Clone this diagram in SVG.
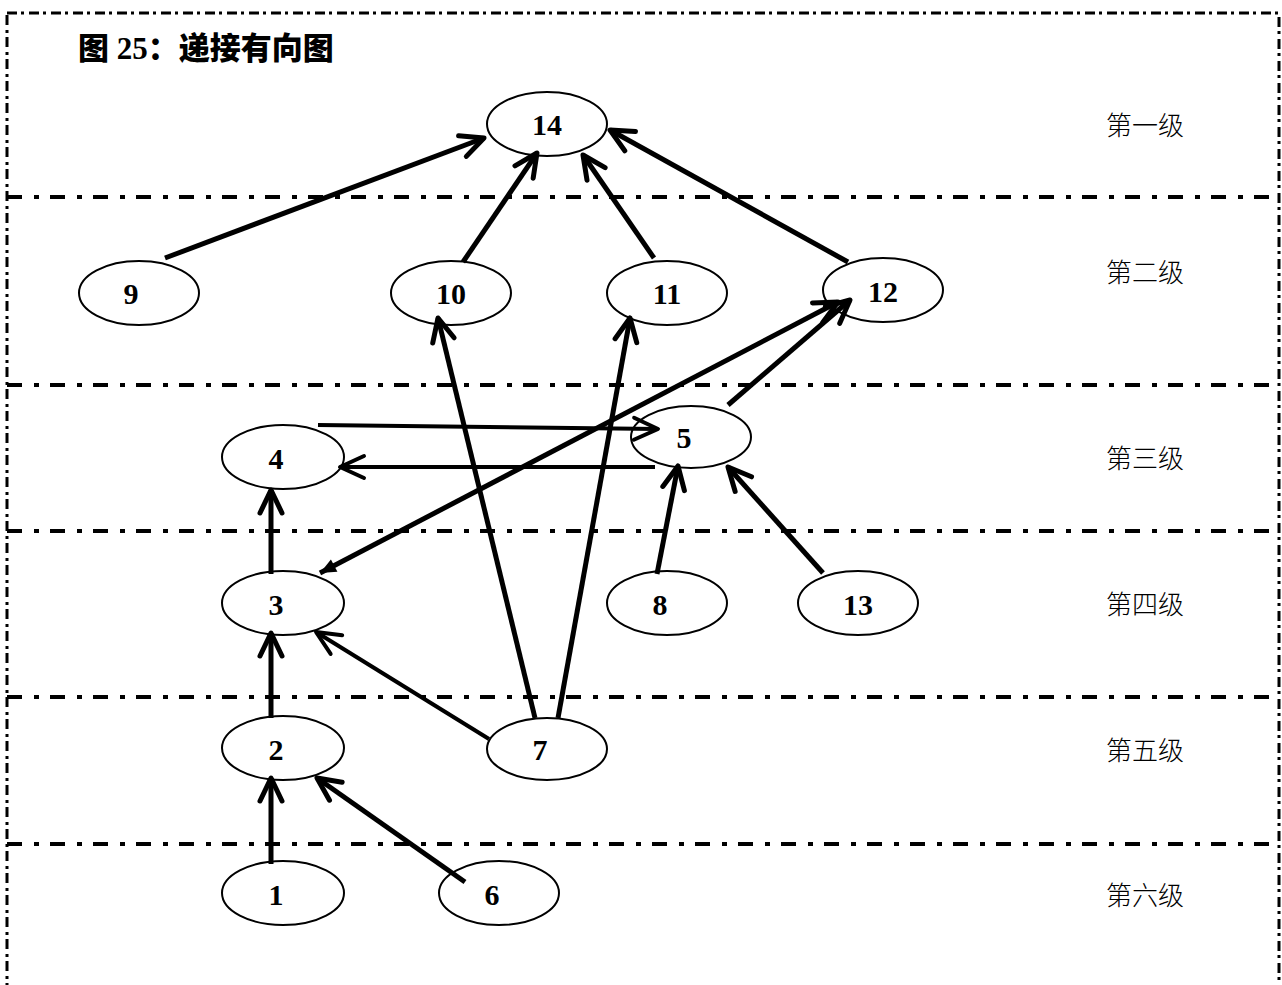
<svg xmlns="http://www.w3.org/2000/svg" width="1282" height="985" viewBox="0 0 1282 985">
<defs>
<style>
.frame{fill:none;stroke:#000;stroke-width:3;stroke-dasharray:10 4 3 5}
.sep{stroke:#000;stroke-width:4;stroke-dasharray:15 12 5 11}
.node ellipse{fill:#fff;stroke:#000;stroke-width:2}
.node text{font-family:"Liberation Serif","Times New Roman",serif;font-weight:bold;font-size:30px;text-anchor:middle;fill:#000}
.lvl{font-family:"Noto Sans CJK SC",sans-serif;font-weight:300;font-size:26px;fill:#000}
.title{font-family:"Liberation Serif","Noto Sans CJK SC",serif;font-weight:900;font-size:31px;fill:#000}
.e{fill:none;stroke:#000;stroke-width:5;marker-end:url(#chev)}
.t{fill:none;stroke:#000;stroke-width:4;marker-end:url(#chevT)}
</style>
<marker id="chev" markerUnits="userSpaceOnUse" viewBox="-30 -16 34 32" refX="0" refY="0" markerWidth="34" markerHeight="32" orient="auto" overflow="visible">
<path d="M-23,-11 L0,0 L-23,11" fill="none" stroke="#000" stroke-width="5" stroke-linejoin="round" stroke-linecap="round"/>
</marker>
<marker id="chevT" markerUnits="userSpaceOnUse" viewBox="-30 -16 34 32" refX="0" refY="0" markerWidth="34" markerHeight="32" orient="auto" overflow="visible">
<path d="M-24,-11 L0,0 L-24,11" fill="none" stroke="#000" stroke-width="4" stroke-linejoin="round" stroke-linecap="round"/>
</marker>
<marker id="tri" markerUnits="userSpaceOnUse" viewBox="-20 -10 24 20" refX="0" refY="0" markerWidth="24" markerHeight="20" orient="auto-start-reverse" overflow="visible">
<path d="M-16,-7 L0,0 L-16,7 Z" fill="#000"/>
</marker>
</defs>
<rect width="1282" height="985" fill="#fff"/>
<rect class="frame" x="7" y="13" width="1272" height="1000"/>
<g id="separators">
<line class="sep" x1="7" y1="197" x2="1279" y2="197"/>
<line class="sep" x1="7" y1="385" x2="1279" y2="385"/>
<line class="sep" x1="7" y1="531" x2="1279" y2="531"/>
<line class="sep" x1="7" y1="697" x2="1279" y2="697"/>
<line class="sep" x1="7" y1="844" x2="1279" y2="844"/>
</g>
<text class="title" x="78" y="59">图 25：递接有向图</text>
<g id="levels">
<text class="lvl" x="1106" y="135">第一级</text>
<text class="lvl" x="1106" y="282">第二级</text>
<text class="lvl" x="1106" y="468">第三级</text>
<text class="lvl" x="1106" y="614">第四级</text>
<text class="lvl" x="1106" y="760">第五级</text>
<text class="lvl" x="1106" y="905">第六级</text>
</g>
<g id="n14" class="node"><ellipse cx="547" cy="124" rx="60" ry="32"/><text x="547" y="135">14</text></g>
<g id="n9" class="node"><ellipse cx="139" cy="293" rx="60" ry="32"/><text x="131" y="304">9</text></g>
<g id="n10" class="node"><ellipse cx="451" cy="293" rx="60" ry="32"/><text x="451" y="304">10</text></g>
<g id="n11" class="node"><ellipse cx="667" cy="293" rx="60" ry="32"/><text x="667" y="304">11</text></g>
<g id="n12" class="node"><ellipse cx="883" cy="290" rx="60" ry="32"/><text x="883" y="302">12</text></g>
<g id="n5" class="node"><ellipse cx="691" cy="437" rx="60" ry="31"/><text x="684" y="448">5</text></g>
<g id="n4" class="node"><ellipse cx="283" cy="457" rx="61" ry="32"/><text x="276" y="469">4</text></g>
<g id="n3" class="node"><ellipse cx="283" cy="603" rx="61" ry="32"/><text x="276" y="615">3</text></g>
<g id="n8" class="node"><ellipse cx="667" cy="603" rx="60" ry="32"/><text x="660" y="615">8</text></g>
<g id="n13" class="node"><ellipse cx="858" cy="603" rx="60" ry="32"/><text x="858" y="615">13</text></g>
<g id="n2" class="node"><ellipse cx="283" cy="748" rx="61" ry="32"/><text x="276" y="760">2</text></g>
<g id="n7" class="node"><ellipse cx="547" cy="749" rx="60" ry="31"/><text x="540" y="760">7</text></g>
<g id="n1" class="node"><ellipse cx="283" cy="893" rx="61" ry="32"/><text x="276" y="905">1</text></g>
<g id="n6" class="node"><ellipse cx="499" cy="893" rx="60" ry="32"/><text x="492" y="905">6</text></g>
<g id="connectors">
<line class="e" x1="165" y1="258" x2="484" y2="138"/>
<line class="e" x1="463" y1="262" x2="537" y2="153"/>
<line class="e" x1="654" y1="258" x2="583" y2="155"/>
<line class="e" x1="848" y1="262" x2="610" y2="130"/>
<line class="e" x1="535" y1="718" x2="438" y2="318"/>
<line class="e" x1="558" y1="718" x2="630" y2="318"/>
<line class="t" x1="489" y1="739" x2="316" y2="632"/>
<line class="e" x1="271" y1="574" x2="271" y2="490"/>
<line class="e" x1="271" y1="718" x2="271" y2="633"/>
<line class="e" x1="271" y1="864" x2="271" y2="778"/>
<line class="e" x1="465" y1="882" x2="317" y2="778"/>
<line class="e" x1="657" y1="574" x2="678" y2="466"/>
<line class="e" x1="823" y1="573" x2="728" y2="467"/>
<line class="e" x1="728" y1="405" x2="850" y2="300"/>
<line class="e" x1="320" y1="573" x2="838" y2="302" style="marker-start:url(#tri)"/>
<line class="t" x1="318" y1="425" x2="658" y2="429"/>
<line class="t" x1="655" y1="467" x2="340" y2="467"/>
</g>
</svg>
